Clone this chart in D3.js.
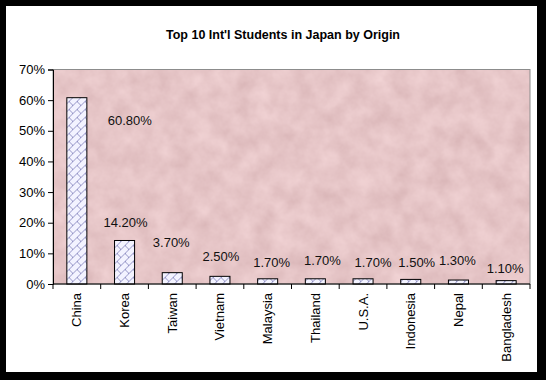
<!DOCTYPE html>
<html>
<head>
<meta charset="utf-8">
<script src="https://cdn.jsdelivr.net/npm/d3@7"></script>
<style>
  body { margin: 0; background: #000; }
  svg { display: block; }
</style>
</head>
<body>
<div id="root"></div>
<script>
// data
var countries = ["China", "Korea", "Taiwan", "Vietnam", "Malaysia", "Thailand", "U.S.A.", "Indonesia", "Nepal", "Bangladesh"]
var shares = [60.8, 14.2, 3.7, 2.5, 1.7, 1.7, 1.7, 1.5, 1.3, 1.1]
var yTicks = [0, 10, 20, 30, 40, 50, 60, 70]
var title = "Top 10 Int'l Students in Japan by Origin"

// hand-moved data labels in the original (dx, dy in px)
var labelNudge = [[53, 40], [1, 0], [-1, -13], [1, -2], [4, 1], [7, -1], [10, 1], [6, 1], [-1, -2], [-1, 5]]

var W = 546, H = 380
var margin = {top: 69.5, right: 15, bottom: 96, left: 53}
var width = 530 - margin.left
var height = 284 - margin.top

var svg = d3.select("#root")
            .append("svg")
            .attr("width", W)
            .attr("height", H)

// black frame and white chart area
svg.append("rect").attr("width", W).attr("height", H).attr("fill", "#000")
svg.append("rect").attr("x", 6).attr("y", 6).attr("width", 531).attr("height", 366).attr("fill", "#fff")

var defs = svg.append("defs")

// diagonal brick hatch for the bars
var pat = defs.append("pattern")
    .attr("id", "brick")
    .attr("patternUnits", "userSpaceOnUse")
    .attr("width", 8).attr("height", 8)
pat.append("rect").attr("width", 8).attr("height", 8).attr("fill", "#f3f3ff")
pat.append("path")
    .attr("d", "M0,8L8,0M-2,2L2,-2M6,10L10,6M0,0L4,4")
    .attr("stroke", "#8a8ac0")
    .attr("stroke-width", 0.9)
    .attr("fill", "none")

// mottled pink marble for the plot area
var f = defs.append("filter").attr("id", "marble")
    .attr("x", 0).attr("y", 0).attr("width", 1).attr("height", 1)
f.append("feTurbulence")
    .attr("type", "fractalNoise")
    .attr("baseFrequency", 0.05)
    .attr("numOctaves", 4)
    .attr("seed", 7)
f.append("feColorMatrix")
    .attr("type", "matrix")
    .attr("values", "0.22 0 0 0 0.68  0.22 0 0 0 0.45  0.22 0 0 0 0.46  0 0 0 0 1")

var g = svg.append("g")
    .attr("transform", "translate(" + margin.left + "," + margin.top + ")")

var x = d3.scaleBand()
    .domain(countries)
    .range([0, width])
    .padding(0)

var y = d3.scaleLinear()
    .domain([0, 70])
    .range([height, 0])

g.append("rect")
    .attr("width", width).attr("height", height)
    .attr("fill", "#d8abad")
g.append("rect")
    .attr("width", width).attr("height", height)
    .attr("filter", "url(#marble)")
g.append("rect")
    .attr("width", width).attr("height", height)
    .attr("fill", "none")
    .attr("stroke", "#8c8c8c")
    .attr("stroke-width", 1)

// bars
var barW = x.bandwidth() * 0.42
g.selectAll(".bar")
    .data(shares)
    .enter()
    .append("rect")
      .attr("class", "bar")
      .attr("x", function(d, i){ return x(countries[i]) + (x.bandwidth() - barW) / 2 })
      .attr("y", function(d){ return y(d) })
      .attr("width", barW)
      .attr("height", function(d){ return height - y(d) })
      .attr("fill", "url(#brick)")
      .attr("stroke", "#000")
      .attr("stroke-width", 1)

// value labels
g.selectAll(".lbl")
    .data(shares)
    .enter()
    .append("text")
      .attr("class", "lbl")
      .attr("x", function(d, i){ return x(countries[i]) + x.bandwidth() / 2 + labelNudge[i][0] })
      .attr("y", function(d, i){ return y(d) - 13 + labelNudge[i][1] })
      .attr("text-anchor", "middle")
      .style("font-family", "Liberation Sans, Arial, sans-serif")
      .style("font-size", "13px")
      .attr("fill", "#111")
      .text(function(d){ return d.toFixed(2) + "%" })

// y axis
var yAxis = g.append("g")
    .call(d3.axisLeft(y).tickValues(yTicks).tickSize(5).tickPadding(3)
          .tickFormat(function(d){ return d + "%" }))
yAxis.select(".domain").attr("stroke", "#000")
yAxis.selectAll("line").attr("stroke", "#000")
yAxis.selectAll("text")
    .style("font-family", "Liberation Sans, Arial, sans-serif")
    .style("font-size", "13px")
    .attr("fill", "#000")

// x axis: ticks sit between categories
var xAxis = g.append("g")
    .attr("transform", "translate(0," + height + ")")
xAxis.append("line")
    .attr("x1", 0).attr("x2", width)
    .attr("stroke", "#000")
xAxis.selectAll(".tk")
    .data(d3.range(countries.length + 1))
    .enter()
    .append("line")
      .attr("x1", function(i){ return i * x.step() })
      .attr("x2", function(i){ return i * x.step() })
      .attr("y1", 0).attr("y2", 5)
      .attr("stroke", "#000")
xAxis.selectAll(".cat")
    .data(countries)
    .enter()
    .append("text")
      .attr("transform", function(d){
        return "translate(" + (x(d) + x.bandwidth() / 2 + 4.5) + ",9) rotate(-90)" })
      .attr("text-anchor", "end")
      .style("font-family", "Liberation Sans, Arial, sans-serif")
      .style("font-size", "13px")
      .attr("fill", "#000")
      .text(function(d){ return d })

// title
svg.append("text")
    .attr("x", 283)
    .attr("y", 39)
    .attr("text-anchor", "middle")
    .style("font-family", "Liberation Sans, Arial, sans-serif")
    .style("font-size", "12.5px")
    .style("font-weight", "bold")
    .attr("fill", "#000")
    .text(title)
</script>
</body>
</html>
